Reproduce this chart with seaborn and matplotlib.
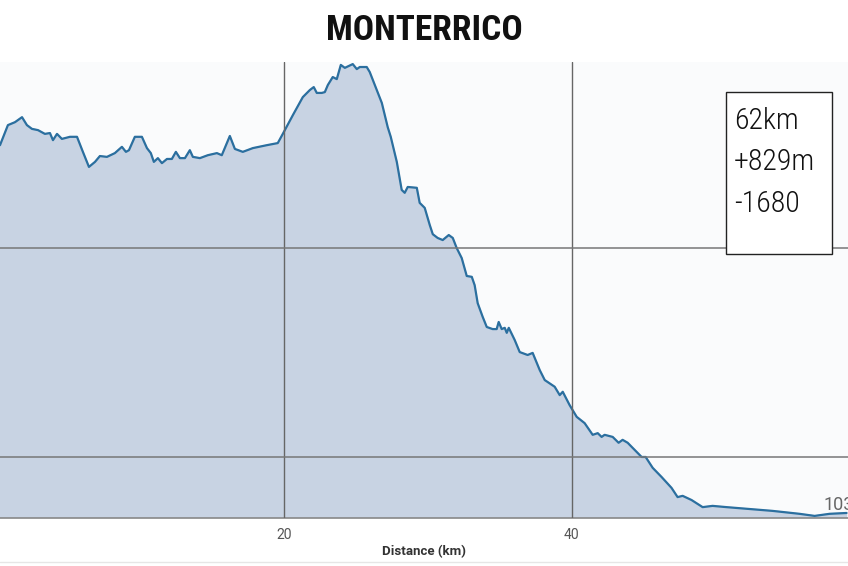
import seaborn as sns
import pandas as pd
import matplotlib.pyplot as plt
from matplotlib.patches import Rectangle
from matplotlib.lines import Line2D
from matplotlib import font_manager

# Data: distance (km) and elevation (m)
distance_km = [0.28, 0.83, 1.32, 1.81, 2.15, 2.50, 2.92, 3.40, 3.75, 3.96, 4.24, 4.58,
               5.14, 5.63, 6.04, 6.46, 6.88, 7.22, 7.71, 8.26, 8.75, 9.03, 9.24, 9.65,
               10.14, 10.49, 10.76, 10.97, 11.25, 11.53, 11.88, 12.22, 12.50, 12.78,
               13.13, 13.47, 13.68, 14.17, 14.72, 15.35, 15.69, 16.25, 16.60, 17.15,
               17.85, 18.82, 19.58, 19.93, 20.63, 21.32, 21.81, 22.08, 22.29, 22.64,
               22.85, 23.06, 23.40, 23.68, 23.96, 24.24, 24.79, 25.07, 25.28, 25.76,
               25.97, 26.32, 26.81, 27.22, 27.43, 27.85, 28.19, 28.40, 28.61, 29.24,
               29.44, 29.79, 30.14, 30.35, 30.69, 31.04, 31.46, 31.74, 32.01, 32.36,
               32.71, 33.06, 33.26, 33.47, 33.82, 34.10, 34.51, 34.79, 34.93, 35.14,
               35.35, 35.49, 35.63, 36.04, 36.39, 36.94, 37.29, 37.78, 38.13, 38.82,
               39.17, 39.38, 39.86, 40.35, 40.90, 41.46, 41.81, 42.08, 42.29, 42.85,
               43.26, 43.54, 43.89, 44.38, 44.86, 45.14, 45.63, 46.25, 46.94, 47.36,
               47.71, 48.33, 49.10, 49.79, 50.76, 52.15, 53.96, 55.83, 56.88, 57.92,
               59.10]
elevation_m = [1246, 1294, 1301, 1313, 1294, 1285, 1282, 1273, 1275, 1258, 1273, 1261,
               1266, 1266, 1230, 1194, 1206, 1220, 1218, 1227, 1242, 1230, 1234, 1266,
               1266, 1239, 1227, 1206, 1215, 1203, 1213, 1213, 1230, 1215,
               1215, 1234, 1218, 1215, 1222, 1227, 1222, 1268, 1237, 1230,
               1239, 1246, 1251, 1273, 1318, 1361, 1378, 1385, 1371, 1371,
               1373, 1390, 1409, 1404, 1438, 1431, 1440, 1428, 1433, 1433,
               1421, 1390, 1347, 1289, 1266, 1206, 1139, 1132, 1146, 1144,
               1108, 1096, 1055, 1033, 1024, 1019, 1031, 1024, 1000, 976,
               933, 931, 911, 868, 835, 811, 806, 806, 823, 806,
               809, 797, 809, 780, 751, 744, 749, 708, 684, 668,
               648, 656, 624, 596, 581, 553, 557, 548, 553, 548,
               534, 541, 534, 517, 500, 500, 474, 452, 426, 404,
               407, 397, 380, 383, 380, 376, 371, 364, 359, 364,
               366]

x_ticks = [20, 40]
y_grid = [500, 1000]
title = "MONTERRICO"
stats = ["62km", "+829m", "-1680"]
min_label = "103"

df = pd.DataFrame({"Distance (km)": distance_km, "Elevation": elevation_m})

sns.set_style("white")
plt.rcParams['font.family'] = ['Roboto', 'DejaVu Sans']

# pick a narrow face if one is installed
names = {f.name for f in font_manager.fontManager.ttflist}
narrow = [n for n in ['Roboto Condensed', 'Liberation Sans Narrow', 'Open Sans Condensed',
                      'DejaVu Sans Condensed'] if n in names]
narrow_family = narrow + ['DejaVu Sans']

fig = plt.figure(figsize=(8.48, 5.66), dpi=100)
ax = fig.add_axes([0, 1 - 518 / 566, 1, (518 - 62) / 566])
ax.set_facecolor('#fafbfc')

ax.fill_between(df["Distance (km)"], df["Elevation"], 0, color='#c8d3e3', zorder=2)
sns.lineplot(data=df, x="Distance (km)", y="Elevation", color='#2b6f9f',
             linewidth=1.6, ax=ax, zorder=3)

ax.set_xlim(0.28, 59.2)
ax.set_ylim(354, 1445)

for xv in x_ticks:
    ax.axvline(xv, color='#666666', linewidth=1, zorder=4)
for yv in y_grid:
    ax.axhline(yv, color='#777777', linewidth=1.1, zorder=4)

ax.set_xticks(x_ticks)
ax.set_xticklabels([str(t) for t in x_ticks], color='#555555', fontsize=10)
ax.tick_params(axis='x', length=6, color='#666666', pad=1)
ax.set_yticks([])
ax.set_ylabel("")
ax.set_xlabel("Distance (km)", fontsize=9.5, fontweight='bold', color='#333333', labelpad=2)

for s in ['top', 'left', 'right']:
    ax.spines[s].set_visible(False)
ax.spines['bottom'].set_color('#888888')
ax.spines['bottom'].set_linewidth(1.2)

ax.text(57.5, 385, min_label, color='#666666', fontsize=13, ha='left', va='center',
        clip_on=False, zorder=5)

# Stats box
fig.patches.append(Rectangle((726 / 848, 1 - 254 / 566), 106 / 848, 162 / 566,
                             transform=fig.transFigure, facecolor='white',
                             edgecolor='#222222', linewidth=1, zorder=10))
for i, s in enumerate(stats):
    fig.text(734 / 848, 1 - (121 + 41.5 * i) / 566, s, fontsize=21.5,
             family=narrow_family, fontstretch='condensed', fontweight='light',
             color='#111111', ha='left', va='center', zorder=11)

fig.text(0.5, 1 - 31 / 566, title, fontsize=25.5, fontweight='bold',
         family=narrow_family, fontstretch='condensed', color='#111111',
         ha='center', va='center')

fig.lines.append(Line2D([0, 1], [1 - 562 / 566] * 2, transform=fig.transFigure,
                        color='#e6e6e6', linewidth=1))

fig.savefig("out.png", dpi=100)
